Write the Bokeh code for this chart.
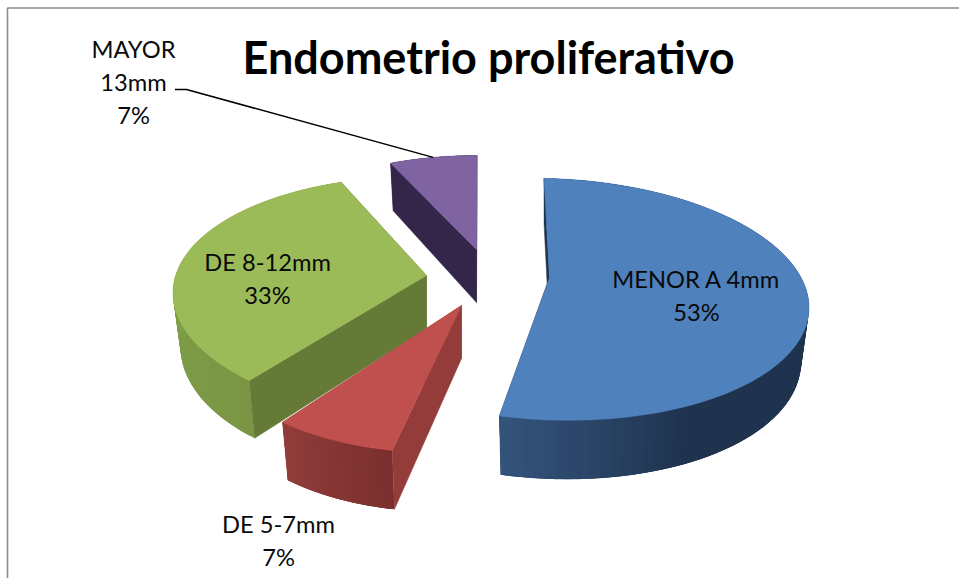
import numpy as np
from bokeh.embed import file_html
from bokeh.models import ColumnDataSource, Range1d
from bokeh.plotting import figure
from bokeh.resources import INLINE
from bokeh.core.properties import value

title = "Endometrio proliferativo"
categories = ["MENOR A 4mm", "DE 5-7mm", "DE 8-12mm", "MAYOR 13mm"]
values = [53, 7, 33, 7]

# Colours per slice: top face, cut faces, and outer wall gradient stops
top_colors = ["#4f81bd", "#c0504d", "#9bbb59", "#8064a2"]
cut_colors = ["#1f334f", "#933c39", "#667a38", "#33264a"]
wall_stops = [
    [(0.0, "#1f334f"), (0.81, "#1f334f"), (1.0, "#34547c")],
    [(0.0, "#7a2f2e"), (1.0, "#913e3b")],
    [(0.0, "#7a9644"), (0.5, "#80a04a"), (1.0, "#85a64e")],
    [(0.0, "#4d3c63"), (1.0, "#4d3c63")],
]

# Camera: each exploded slice has its own apex and a slightly sheared projection
apex_x = [549, 461, 426, 476]
apex_y = [277, 305, 275, 249]
radius_x = [254, 244.5, 248, 236]
radius_y = [117, 120.7, 116.3, 111]
shear_x = [6.5, -11.3, -7, -0.6]
shear_y = [5, -3.7, 7.5, 0]
PERSPECTIVE = 0.18
DEPTH = 53
DEPTH_NEAR = 6
LOWER_SCALE = 0.97


def project(i, theta, lower=False):
    """Map a clockwise angle from the top of slice i to page coordinates."""
    theta = np.asarray(theta, dtype=float)
    sx, sy = np.sin(theta), -np.cos(theta)
    w = 1 - PERSPECTIVE * sy
    dx = (radius_x[i] * sx + shear_x[i] * sy) / w
    dy = (shear_y[i] * sx + radius_y[i] * sy) / w
    if lower:
        dx = dx * LOWER_SCALE
        dy = dy + DEPTH + DEPTH_NEAR * sy
    return apex_x[i] + dx, apex_y[i] + dy


def mix(stops, t):
    for (t0, c0), (t1, c1) in zip(stops, stops[1:]):
        if t <= t1:
            f = 0 if t1 == t0 else (t - t0) / (t1 - t0)
            a = [int(c0[k:k + 2], 16) for k in (1, 3, 5)]
            b = [int(c1[k:k + 2], 16) for k in (1, 3, 5)]
            return "#%02x%02x%02x" % tuple(round(p + (q - p) * f) for p, q in zip(a, b))
    return stops[-1][1]


def cut_face(i, angle):
    rx, ry = project(i, angle)
    lx, ly = project(i, angle, lower=True)
    ax, ay = apex_x[i], apex_y[i]
    p.patch([ax, float(rx), float(lx), ax], [ay, float(ry), float(ly), ay + DEPTH],
            fill_color=cut_colors[i], line_color=cut_colors[i], line_width=0.5)


p = figure(width=959, height=578, x_range=Range1d(0, 959), y_range=Range1d(578, 0),
           output_backend="svg", toolbar_location=None, min_border=0,
           outline_line_color=None, background_fill_color="white")
p.axis.visible = False
p.grid.visible = False

# Chart frame: only the top and left edges fall inside the page
p.line([7, 7, 959], [578, 7.5, 7.5], line_color="#8c8c8c", line_width=1.6)

# Slice angles come from the values
edges = np.cumsum([0] + values) / sum(values) * 2 * np.pi

for i in (3, 2, 0, 1):
    start, end = edges[i], edges[i + 1]

    # Hidden cut face behind the wall
    cut_face(i, end)

    # Outer wall, as thin shaded strips that overlap the next one to avoid seams
    n = 90
    t = np.linspace(start, end, n + 1)
    ux, uy = project(i, t)
    lx, ly = project(i, t, lower=True)
    nxt = [min(k + 3, n) for k in range(n)]
    xs = [[ux[k], ux[m], lx[m], lx[k]] for k, m in zip(range(n), nxt)]
    ys = [[uy[k], uy[m], ly[m], ly[k]] for k, m in zip(range(n), nxt)]
    shades = [mix(wall_stops[i], (k + 0.5) / n) for k in range(n)]
    p.patches("xs", "ys", fill_color="c", line_color=None,
              source=ColumnDataSource(dict(xs=xs, ys=ys, c=shades)))

    # Visible cut face, then the top face
    cut_face(i, start)
    p.patch([apex_x[i], *ux], [apex_y[i], *uy], fill_color=top_colors[i],
            line_color=top_colors[i], line_width=0.5)

# Leader from the outside label to the rim of the last slice
rim_x, rim_y = project(3, (edges[3] + edges[4]) / 2)
p.line([174.5, 186, float(rim_x)], [89, 89, float(rim_y)], line_color="black", line_width=1.5)

FONT = value("Lato")
TITLE_SIZE = 45
LABEL_SIZE = 23.7
RISE = 0.38  # lifts the text box so the given y is the baseline
p.text([488], [74 - RISE * TITLE_SIZE], text=[title], text_font=FONT, text_font_style="bold",
       text_font_size=f"{TITLE_SIZE}px", text_align="center", text_baseline="alphabetic",
       text_color="black")

percent = ["%d%%" % round(v / sum(values) * 100) for v in values]
label_x = [696, 278, 267, 133]
label_y = [288, 533, 271, 58]
line_gap = 33
lines = [[categories[0], percent[0]], [categories[1], percent[1]], [categories[2], percent[2]],
         ["MAYOR", "13mm", percent[3]]]
for x, y, block in zip(label_x, label_y, lines):
    for j, s in enumerate(block):
        p.text([x], [y + j * line_gap - RISE * LABEL_SIZE], text=[s], text_font=FONT,
               text_font_size=f"{LABEL_SIZE}px", text_align="center",
               text_baseline="alphabetic", text_color="#0a0a0a")

open("out.html", "w").write(file_html(p, INLINE))
